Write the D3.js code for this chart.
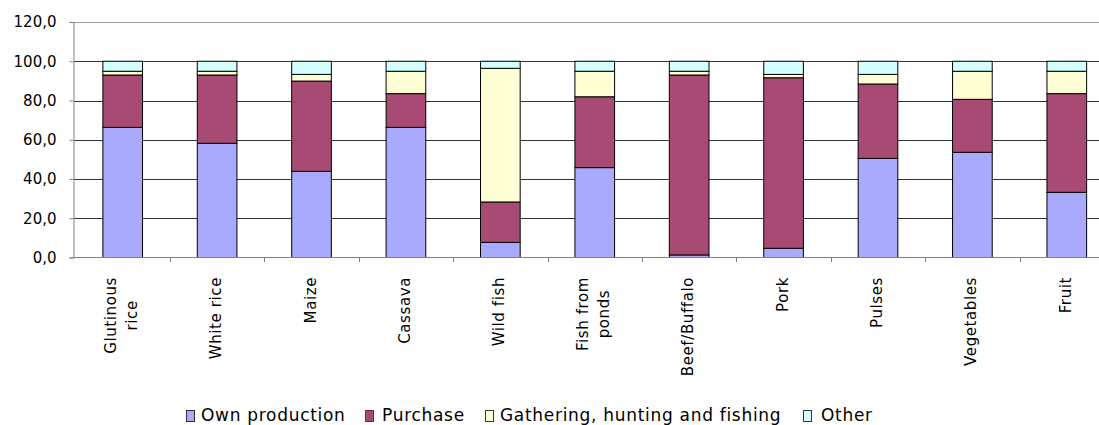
<!DOCTYPE html>
<html>
<head>
<meta charset="utf-8">
<script src="https://d3js.org/d3.v7.min.js"></script>
<style>
body{margin:0;background:#fff;}
text{font-family:"DejaVu Sans",Verdana,sans-serif;fill:#000;}
</style>
</head>
<body>
<div id="chart"></div>
<script>

let categories=["Glutinous rice","White rice","Maize","Cassava","Wild fish","Fish from ponds","Beef/Buffalo","Pork","Pulses","Vegetables","Fruit"];
// label lines as they wrap in the picture
let categoryLines=[["Glutinous","rice"],["White rice"],["Maize"],["Cassava"],["Wild fish"],["Fish from","ponds"],["Beef/Buffalo"],["Pork"],["Pulses"],["Vegetables"],["Fruit"]];

let seriesNames=["Own production","Purchase","Gathering, hunting and fishing","Other"];
let ownProduction=[66.3,58.2,43.9,66.3,7.7,45.8,1.3,4.7,50.5,53.6,33.2];
let purchase=[26.7,34.8,46.0,17.2,20.6,36.1,91.7,86.9,37.9,27.0,50.3];
let gathering=[1.9,1.9,3.4,11.4,68.1,13.0,1.9,1.7,4.9,14.3,11.4];
let other=[5.1,5.1,6.7,5.1,3.6,5.1,5.1,6.7,6.7,5.1,5.1];

let yTicks=[0,20,40,60,80,100,120];

let colors=["#a9a9fe","#a94a74","#ffffd5","#d4ffff"];

let width=1099;
let height=425;

let svg=d3.select("#chart").append("svg").attr("width",width).attr("height",height);

let rows=categories.map((c,i)=>({
	cat:c,
	"Own production":ownProduction[i],
	"Purchase":purchase[i],
	"Gathering, hunting and fishing":gathering[i],
	"Other":other[i]
}));

let stacked=d3.stack().keys(seriesNames)(rows);

let x=d3.scaleBand()
	.domain(categories)
	.range([75.5,1114])
	.paddingInner(0.58)
	.paddingOuter(0.29);

let y=d3.scaleLinear()
	.domain([0,120])
	.range([257.5,22]);

let fmt=d3.formatLocale({decimal:",",thousands:".",grouping:[3],currency:["",""]}).format(".1f");

// gridlines
svg.append("g").selectAll("line")
	.data(yTicks.filter(d=>d>0))
	.join("line")
	.attr("x1",74).attr("x2",width)
	.attr("y1",d=>Math.round(y(d))+0.5).attr("y2",d=>Math.round(y(d))+0.5)
	.attr("stroke",d=>d==120?"#a0a0a0":"#333")
	.attr("stroke-width",1);

// y axis
let yAxis=svg.append("g")
	.attr("transform","translate(73.5,0)")
	.call(d3.axisLeft(y).tickValues(yTicks).tickFormat(fmt).tickSize(4).tickPadding(13));
yAxis.select(".domain").attr("stroke","#808080");
yAxis.selectAll(".tick line").attr("stroke","#808080");
yAxis.selectAll(".tick text").style("font-size","15px").attr("fill","#000");

// bars
let layers=svg.append("g").selectAll("g")
	.data(stacked)
	.join("g")
	.attr("fill",(d,i)=>colors[i]);

layers.selectAll("rect")
	.data(d=>d)
	.join("rect")
	.attr("x",d=>x(d.data.cat))
	.attr("y",d=>y(d[1]))
	.attr("width",x.bandwidth())
	.attr("height",d=>y(d[0])-y(d[1]))
	.attr("stroke","#000")
	.attr("stroke-width",1);

// x axis line and ticks between the categories
svg.append("line")
	.attr("x1",73.5).attr("x2",width)
	.attr("y1",257.5).attr("y2",257.5)
	.attr("stroke","#808080");

let boundaries=categories.slice(1).map(c=>x(c)-x.step()*x.paddingOuter());
svg.append("g").selectAll("line")
	.data(boundaries)
	.join("line")
	.attr("x1",d=>Math.round(d)+0.5).attr("x2",d=>Math.round(d)+0.5)
	.attr("y1",257.5).attr("y2",262)
	.attr("stroke","#808080");

// category labels, rotated
let labelTop=277;
let lineGap=21;
let labels=svg.append("g").selectAll("g")
	.data(categoryLines)
	.join("g");

labels.each(function(lines,i){
	let cx=x(categories[i])+x.bandwidth()/2;
	let g=d3.select(this);
	let texts=lines.map((t,j)=>{
		let base=cx+4+(j-(lines.length-1)/2)*lineGap;
		return g.append("text")
			.attr("transform","translate("+base+",0) rotate(-90)")
			.style("font-size","15px")
			.style("letter-spacing","0.6px")
			.text(t);
	});
	let maxLen=d3.max(texts,t=>t.node().getComputedTextLength());
	texts.forEach(t=>{
		t.attr("text-anchor","middle").attr("x",-(labelTop+maxLen/2)).attr("y",0);
	});
});

// legend
let legendItems=[
	{name:seriesNames[0],box:186,text:201},
	{name:seriesNames[1],box:365,text:382},
	{name:seriesNames[2],box:485,text:500},
	{name:seriesNames[3],box:803,text:821}
];

let legend=svg.append("g");
legend.selectAll("rect")
	.data(legendItems)
	.join("rect")
	.attr("x",d=>d.box+0.5).attr("y",410.5)
	.attr("width",8).attr("height",11)
	.attr("fill",(d,i)=>colors[i])
	.attr("stroke",(d,i)=>i==1?"#6b2a47":"#333")
	.attr("stroke-width",1);

legend.selectAll("text")
	.data(legendItems)
	.join("text")
	.attr("x",d=>d.text).attr("y",421)
	.style("font-size","17px")
	.style("letter-spacing","0.7px")
	.text(d=>d.name);

</script>
</body>
</html>
